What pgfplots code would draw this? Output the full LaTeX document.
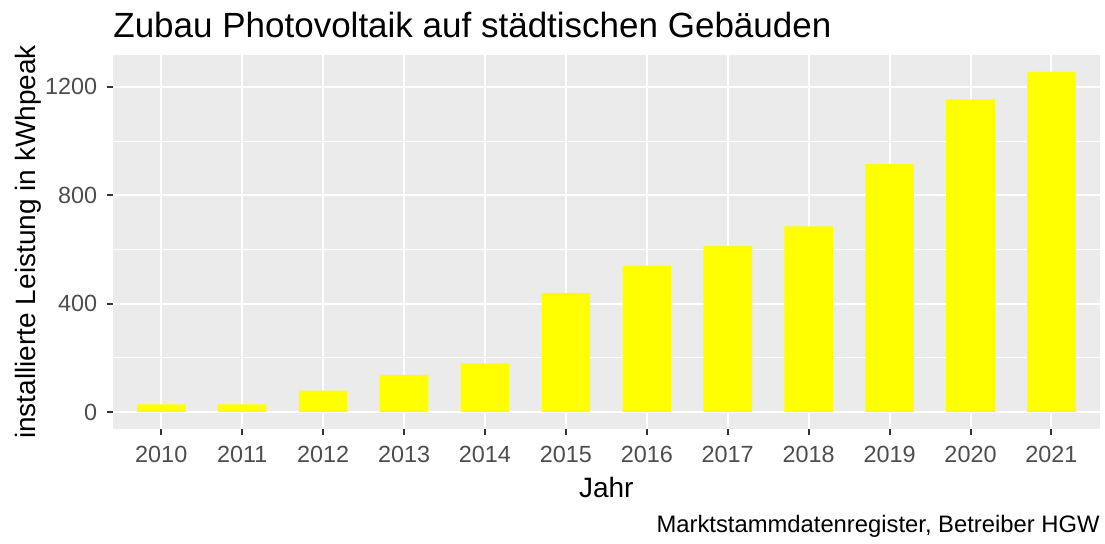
\documentclass[border=0pt]{standalone}
\usepackage{pgfplots}
\pgfplotsset{compat=1.18}
\usepackage{fontspec}
\setmainfont{Liberation Sans}
\definecolor{panelbg}{HTML}{EBEBEB}
\definecolor{ticklab}{HTML}{4D4D4D}
\definecolor{tickcol}{HTML}{333333}
\definecolor{baryellow}{HTML}{FFFF00}
\begin{document}
\begin{tikzpicture}
\useasboundingbox (-56.35pt,-57.5pt) rectangle (496.15pt,214.5pt);
\begin{axis}[
  at={(0,0)}, anchor=south west,
  scale only axis,
  width=493.65pt, height=187pt,
  xmin=-0.6, xmax=11.6,
  ymin=-62.75, ymax=1317.75,
  axis background/.style={fill=panelbg},
  axis line style={draw=none},
  xtick={0,1,2,3,4,5,6,7,8,9,10,11},
  xticklabels={2010,2011,2012,2013,2014,2015,2016,2017,2018,2019,2020,2021},
  ytick={0,400,800,1200},
  yticklabels={0,400,800,1200},
  minor ytick={200,600,1000},
  grid=both,
  major grid style={white, line width=1pt},
  minor grid style={white, line width=0.5pt},
  tick align=outside,
  tick pos=left,
  major tick length=3pt,
  minor tick length=0pt,
  tick style={tickcol, line width=1pt},
  x tick label style={font=\fontsize{11.7}{13}\selectfont, text=ticklab, anchor=north, inner sep=0pt, yshift=-5.5pt},
  y tick label style={font=\fontsize{11.7}{13}\selectfont, text=ticklab, anchor=east, inner sep=0pt, xshift=-4.6pt},
  ybar, bar width=0.6,
]
\addplot[fill=baryellow, draw=none] coordinates {
(0,28) (1,28) (2,79) (3,137) (4,179) (5,439) (6,540) (7,612) (8,685) (9,915) (10,1154) (11,1255)
};
\end{axis}
\node[anchor=base west, inner sep=0pt, font=\fontsize{17.5}{20}\selectfont] at (0.15pt,195.5pt) {Zubau Photovoltaik auf städtischen Gebäuden};
\node[anchor=base, inner sep=0pt, font=\fontsize{14}{16}\selectfont] at (246.8pt,-34.5pt) {Jahr};
\node[anchor=base, rotate=90, inner sep=0pt, font=\fontsize{14}{16}\selectfont] at (-38.6pt,93.5pt) {installierte Leistung in kWhpeak};
\node[anchor=base east, inner sep=0pt, font=\fontsize{11.9}{13}\selectfont] at (493.65pt,-52pt) {Marktstammdatenregister, Betreiber HGW};
\end{tikzpicture}
\end{document}
